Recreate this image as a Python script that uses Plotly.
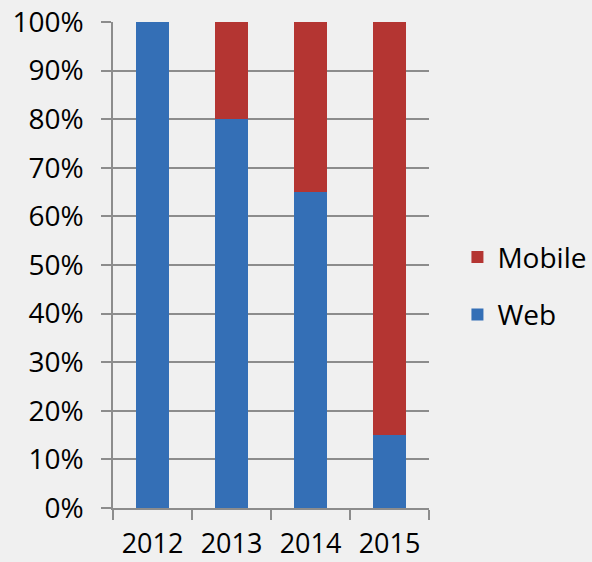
import plotly.graph_objects as go

years = ["2012", "2013", "2014", "2015"]
web = [1.00, 0.80, 0.65, 0.15]
mobile = [0.00, 0.20, 0.35, 0.85]

FONT = "Open Sans"
fig = go.Figure()
fig.add_trace(go.Bar(x=years, y=web, name="Web", marker=dict(color="#346fb6", line=dict(width=0)),
                     width=0.41, legendgroup="w", legendrank=2))
fig.add_trace(go.Bar(x=years, y=mobile, name="Mobile", marker=dict(color="#b43532", line=dict(width=0)),
                     width=0.41, legendgroup="m", legendrank=1))

fig.update_layout(
    width=592, height=562,
    barmode="stack",
    paper_bgcolor="#f0f0f0", plot_bgcolor="#f0f0f0",
    margin=dict(l=113, r=163, t=22, b=54, autoexpand=False),
    font=dict(family=FONT, size=28, color="#000000"),
    showlegend=True,
    legend=dict(traceorder="grouped", x=1.09, xanchor="left", y=0.457, yanchor="middle",
                tracegroupgap=18, font=dict(size=28), bgcolor="rgba(0,0,0,0)"),
    xaxis=dict(type="category", tickson="boundaries", ticks="outside", ticklen=10, tickwidth=1.5,
               tickcolor="#8c8c8c", showline=True, linecolor="#8c8c8c", linewidth=1.5,
               showgrid=False, ticklabelstandoff=11, tickfont=dict(size=27), automargin=False),
    yaxis=dict(range=[0, 1], dtick=0.1, tickformat=".0%", ticks="outside", ticklen=10, tickwidth=1.5,
               tickcolor="#8c8c8c", showline=True, linecolor="#8c8c8c", linewidth=1.5,
               showgrid=True, gridcolor="#8c8c8c", gridwidth=1.5, zeroline=False,
               ticklabelstandoff=12, automargin=False),
)
fig.write_html("out.html", config={"displayModeBar": False},
               post_script="document.body.style.margin='0';document.body.style.background='#f0f0f0';")
